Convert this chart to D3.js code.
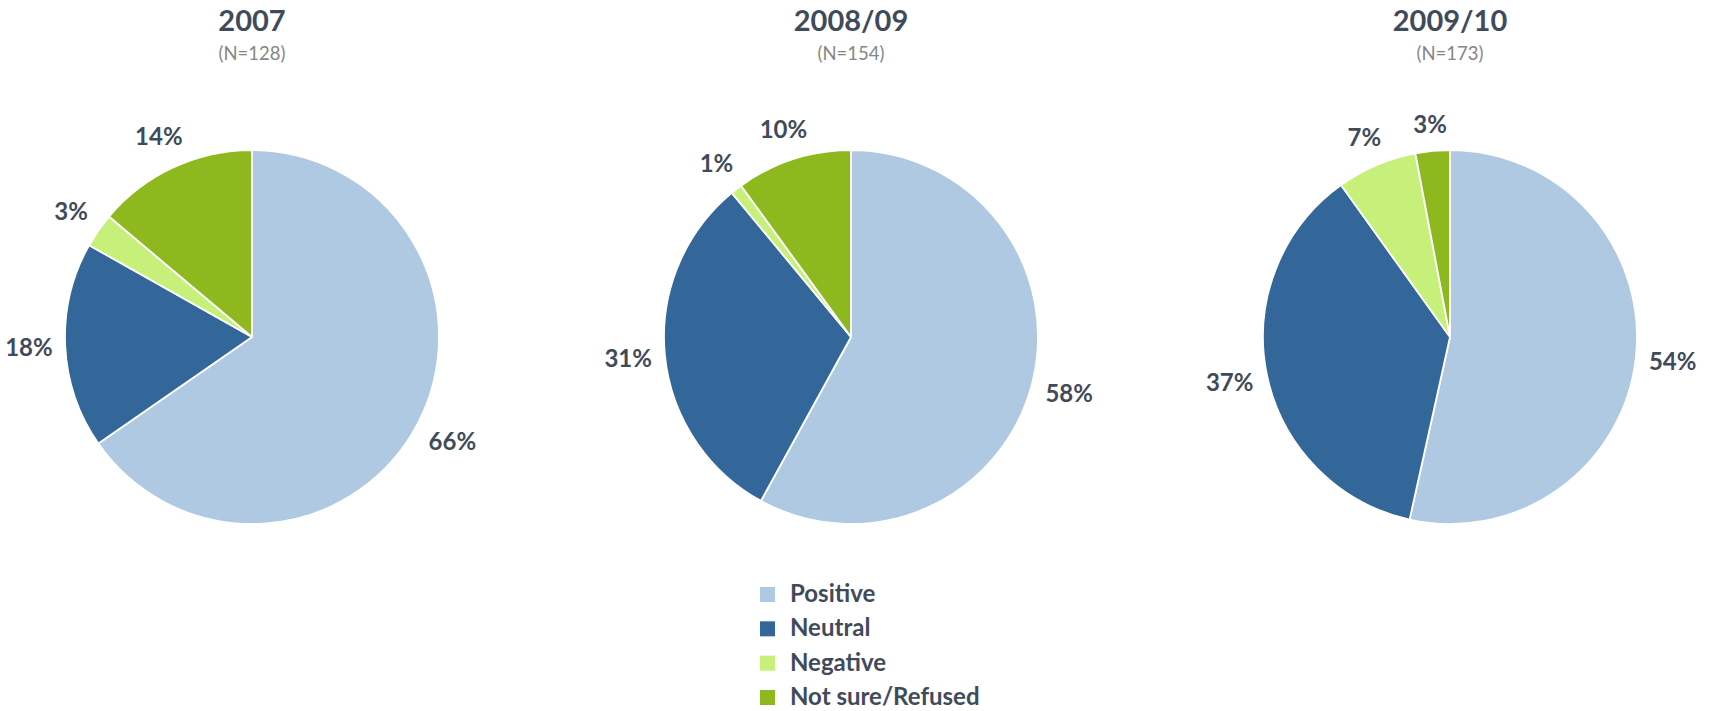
<!DOCTYPE html>
<html>
<head>
<meta charset="utf-8">
<script src="https://cdn.jsdelivr.net/npm/d3@7"></script>
<style>
  html, body { margin: 0; padding: 0; background: #fff; }
  svg { display: block; font-family: Lato, "Open Sans", sans-serif; }
</style>
</head>
<body>
<svg id="chart" width="1715" height="711"></svg>
<script>
// ---- data ----
const categories = ["Positive", "Neutral", "Negative", "Not sure/Refused"];
const periods = ["2007", "2008/09", "2009/10"];
const sampleSizes = ["(N=128)", "(N=154)", "(N=173)"];
const values2007 = [66, 18, 3, 14];
const values2008 = [58, 31, 1, 10];
const values2009 = [54, 37, 7, 3];
const seriesValues = [values2007, values2008, values2009];

// ---- styles ----
const colors = ["#AFC9E3", "#336699", "#C7F07B", "#8DB91F"];
const textColor = "#3F4B5A";
const subColor = "#868686";

const svg = d3.select("#chart");

const xCenter = d3.scalePoint().domain(periods).range([252, 1450]);
const cy = 337;
const radius = 187;
const color = d3.scaleOrdinal().domain(categories).range(colors);

const pie = d3.pie().sort(null).value(d => d.value);
const arc = d3.arc().innerRadius(0).outerRadius(radius);

periods.forEach((p, i) => {
  const cx = xCenter(p);
  const g = svg.append("g").attr("transform", `translate(${cx},${cy})`);
  const data = categories.map((c, k) => ({ cat: c, value: seriesValues[i][k] }));
  const arcs = pie(data);

  g.selectAll("path").data(arcs).enter().append("path")
    .attr("d", arc)
    .attr("fill", d => color(d.data.cat))
    .attr("stroke", "#fff")
    .attr("stroke-width", 1.8)
    .attr("stroke-linejoin", "round");

  // labels outside
  const Re = radius + 12;
  const hh = 13;
  g.selectAll("text.lbl").data(arcs).enter().append("text")
    .attr("class", "lbl")
    .attr("text-anchor", "middle")
    .attr("font-size", 24)
    .attr("font-weight", 700)
    .attr("fill", textColor)
    .text(d => d.data.value + "%")
    .each(function(d) {
      const w = this.getComputedTextLength();
      const a = (d.startAngle + d.endAngle) / 2;
      const dx = Math.sin(a), dy = -Math.cos(a);
      const dist = Re + (w / 2) * Math.abs(dx) + hh * Math.abs(dy);
      const x = dist * dx, y = dist * dy;
      d3.select(this).attr("x", x).attr("y", y + 8.6);
    });

  // titles
  svg.append("text")
    .attr("x", cx).attr("y", 31)
    .attr("text-anchor", "middle")
    .attr("font-size", 29).attr("font-weight", 700)
    .attr("fill", textColor)
    .text(p);
  svg.append("text")
    .attr("x", cx).attr("y", 60)
    .attr("text-anchor", "middle")
    .attr("font-size", 18.5)
    .attr("fill", subColor)
    .text(sampleSizes[i]);
});

// legend
const legendY = d3.scalePoint().domain(categories).range([587, 690]);
const lg = svg.append("g");
categories.forEach(c => {
  lg.append("rect")
    .attr("x", 760).attr("y", legendY(c))
    .attr("width", 15).attr("height", 15)
    .attr("fill", color(c));
  lg.append("text")
    .attr("x", 790).attr("y", legendY(c) + 15)
    .attr("font-size", 24).attr("font-weight", 700)
    .attr("fill", textColor)
    .text(c);
});
</script>
</body>
</html>
